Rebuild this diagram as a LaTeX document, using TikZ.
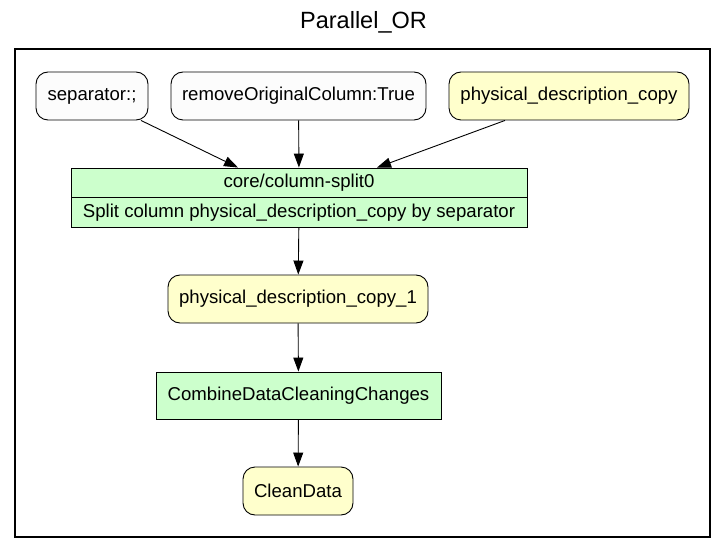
\documentclass[tikz,border=0pt]{standalone}
\usepackage{fontspec}
\setmainfont{Liberation Sans}
\usepackage{tikz}
\usetikzlibrary{arrows.meta,calc}
\definecolor{datafill}{HTML}{FFFFCC}
\definecolor{stepfill}{HTML}{CCFFCC}
\definecolor{parfill}{HTML}{FCFCFC}

\begin{document}
\begin{tikzpicture}[x=1pt, y=-1pt,
  font=\fontsize{18.6}{22}\selectfont, >={Triangle[length=14pt, width=10pt]},
  param/.style={draw, line width=0.9pt, rounded corners=12pt, fill=parfill, inner sep=0pt, minimum height=48pt},
  datum/.style={param, fill=datafill},
  stepbox/.style={draw, line width=0.9pt, fill=stepfill, inner sep=0pt, minimum width=456pt, minimum height=29.5pt},
  cluster/.style={draw, line width=2pt, inner sep=0pt, minimum width=695pt, minimum height=488pt},
  arr/.style={->, line width=0.9pt}]
\useasboundingbox (0,0) rectangle (727,553);
\node[font=\fontsize{23.5}{27}\selectfont] (title) at (363.5,22) {Parallel\_OR};
\node[cluster] (cl) at (362.5,293) {};
\node[param, minimum width=112pt] (sep) at (92,96) {separator:;};
\node[param, minimum width=255pt] (rmcol) at (298.5,96) {removeOriginalColumn:True};
\node[datum, minimum width=240pt] (pdc) at (569,96) {physical\_description\_copy};
\node[stepbox] (splittop) at (299,182.75) {core/column-split0};
\node[stepbox] (splitbot) at (299,212.25) {Split column physical\_description\_copy by separator};
\node[datum, minimum width=260pt] (pdcone) at (298,299) {physical\_description\_copy\_1};
\node[stepbox, minimum width=285pt, minimum height=47pt] (combine) at (298.5,395.5) {CombineDataCleaningChanges};
\node[datum, minimum width=110pt] (clean) at (298,491) {CleanData};
% inputs of the split step
\coordinate (sepout) at ($(sep.south)+(49,0)$);
\coordinate (pdcout) at ($(pdc.south)+(-64,0)$);
\coordinate (inone) at ($(splittop.north)+(-61,0)$);
\coordinate (inthree) at ($(splittop.north)+(78,0)$);
\draw[arr] (sepout) -- (inone);
\draw[arr] (rmcol) -- (splittop);
\draw[arr] (pdcout) -- (inthree);
\draw[arr] (splitbot) -- (pdcone);
\draw[arr] (pdcone) -- (combine);
\draw[arr] (combine) -- (clean);
\end{tikzpicture}
\end{document}
